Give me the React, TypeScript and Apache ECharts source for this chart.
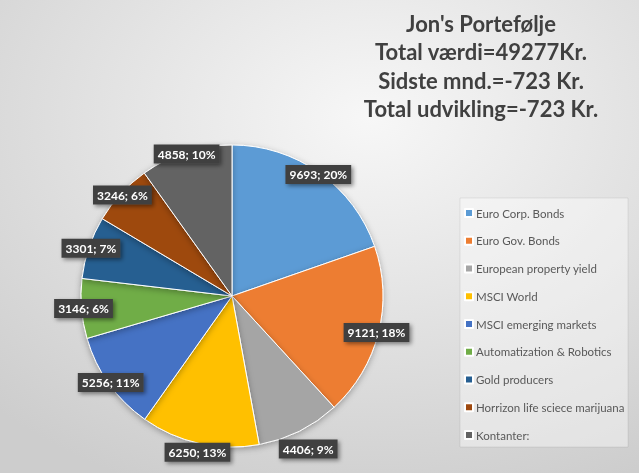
import React, { useEffect, useRef } from "react";
import * as echarts from "echarts";

// Portfolio holdings (Kr.)
const holdings = [
  "Euro Corp. Bonds",
  "Euro Gov. Bonds",
  "European property yield",
  "MSCI World",
  "MSCI emerging markets",
  "Automatization & Robotics",
  "Gold producers",
  "Horrizon life sciece marijuana",
  "Kontanter:",
];
const amounts = [9693, 9121, 4406, 6250, 5256, 3146, 3301, 3246, 4858];

const titleLines = [
  "Jon's Portefølje",
  "Total værdi=49277Kr.",
  "Sidste mnd.=-723 Kr.",
  "Total udvikling=-723 Kr.",
];

const palette = [
  "#5B9BD5",
  "#ED7D31",
  "#A5A5A5",
  "#FFC000",
  "#4472C4",
  "#70AD47",
  "#255E91",
  "#9E480E",
  "#636363",
];

const PIE_CENTER = [232, 296];
const PIE_RADIUS = 151;
const LABEL_RADIUS = 146;
// labels near the bottom are pushed outward so they clear the rim
const labelPush: Record<number, number> = { 2: 22, 3: 11 };

export default function App() {
  const ref = useRef<HTMLDivElement>(null);

  useEffect(() => {
    if (!ref.current) return;
    const chart = echarts.init(ref.current, undefined, { renderer: "svg" });
    const seriesData = holdings.map((name, i) => ({ name, value: amounts[i] }));

    chart.setOption({
      animation: false,
      color: palette,
      backgroundColor: {
        type: "radial",
        x: 0.58,
        y: 0.25,
        r: 0.85,
        colorStops: [
          { offset: 0, color: "#f7f7f7" },
          { offset: 1, color: "#cdcdcd" },
        ],
      },
      graphic: [
        {
          type: "text",
          x: 481,
          y: 9,
          style: {
            text: titleLines.join("\n"),
            align: "center",
            verticalAlign: "top",
            font: "bold 22px Lato, 'Open Sans', sans-serif",
            lineHeight: 28.5,
            fill: "#404040",
          },
        },
        {
          type: "rect",
          x: 460,
          y: 198,
          shape: { width: 168, height: 249 },
          style: { fill: "rgba(255,255,255,0.4)", stroke: "rgba(0,0,0,0.07)", lineWidth: 1 },
          z: -1,
        },
      ],
      legend: {
        orient: "vertical",
        left: 464,
        top: 206,
        itemWidth: 8,
        itemHeight: 8,
        itemGap: 13.75,
        icon: "rect",
        padding: 0,
        textStyle: {
          color: "#595959",
          fontSize: 11.5,
          fontFamily: "Lato, 'Open Sans', sans-serif",
          lineHeight: 14,
          padding: [0, 0, 0, -2],
        },
        data: holdings,
      },
      series: [
        {
          type: "pie",
          center: PIE_CENTER,
          radius: [0, PIE_RADIUS],
          startAngle: 90,
          clockwise: true,
          data: seriesData,
          label: { show: false },
          labelLine: { show: false },
          itemStyle: {
            borderColor: "#ffffff",
            borderWidth: 1,
            shadowBlur: 6,
            shadowColor: "rgba(0,0,0,0.3)",
            shadowOffsetY: 2,
          },
          emphasis: { disabled: true },
        },
        {
          // transparent ring that only carries the data labels
          type: "pie",
          center: PIE_CENTER,
          radius: [0, LABEL_RADIUS * 2],
          startAngle: 90,
          clockwise: true,
          percentPrecision: 0,
          silent: true,
          data: seriesData,
          itemStyle: { color: "transparent" },
          labelLine: { show: false },
          emphasis: { disabled: true },
          label: {
            show: true,
            position: "inside",
            formatter: "{c}; {d}%",
            color: "#ffffff",
            fontWeight: "bold",
            fontSize: 12,
            fontFamily: "Lato, 'Open Sans', sans-serif",
            backgroundColor: "#404040",
            padding: [4, 4, 3, 4],
            shadowBlur: 4,
            shadowColor: "rgba(0,0,0,0.45)",
            shadowOffsetX: 2,
            shadowOffsetY: 2,
          },
          labelLayout: (p: any) => {
            const push = labelPush[p.dataIndex];
            if (!push) return {};
            const lx = p.labelRect.x + p.labelRect.width / 2 - PIE_CENTER[0];
            const ly = p.labelRect.y + p.labelRect.height / 2 - PIE_CENTER[1];
            const len = Math.sqrt(lx * lx + ly * ly) || 1;
            return { dx: (lx / len) * push, dy: (ly / len) * push };
          },
        },
      ],
    });

    return () => chart.dispose();
  }, []);

  return (
    <div
      ref={ref}
      style={{ position: "fixed", left: 0, top: 0, width: 639, height: 473 }}
    />
  );
}
